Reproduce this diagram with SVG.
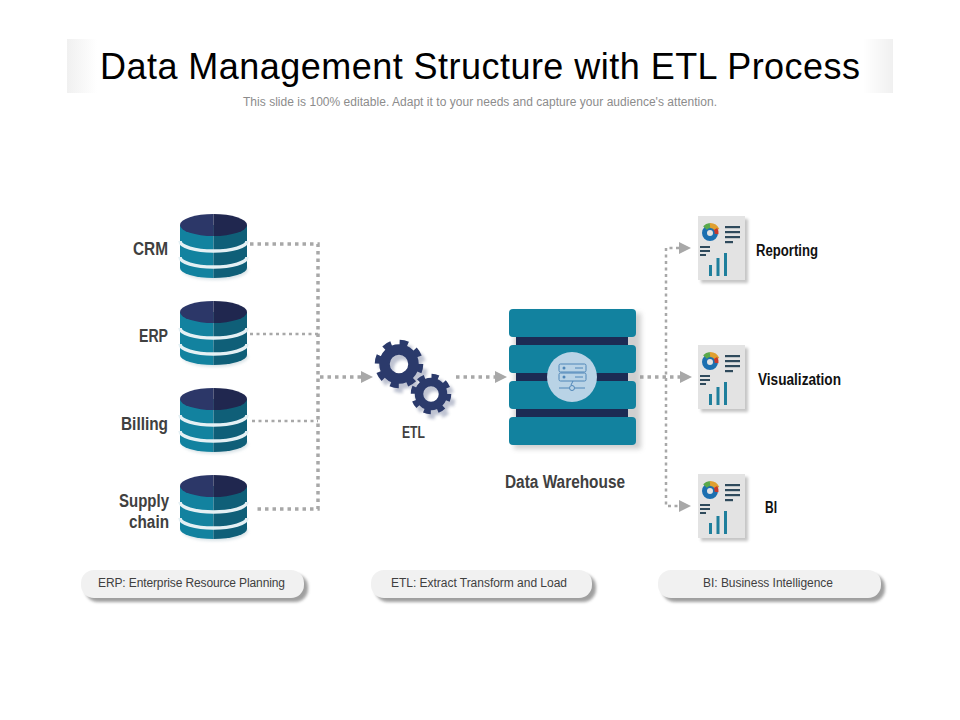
<svg xmlns="http://www.w3.org/2000/svg" width="960" height="720" viewBox="0 0 960 720">
<style>
.lab{font-family:"Liberation Sans",Arial,sans-serif;font-weight:700;font-size:18px;fill:#404040}
.blk{font-family:"Liberation Sans",Arial,sans-serif;font-weight:700;font-size:16px;fill:#111}
.pilltxt{font-family:"Liberation Sans",Arial,sans-serif;font-size:12px;fill:#404040}
.dot{fill:none;stroke:#a8a8a8;stroke-width:3.500;stroke-dasharray:3.500 4}
.dot2{fill:none;stroke:#a8a8a8;stroke-width:2.500;stroke-dasharray:3 3.500}
.arr{fill:#a8a8a8}
.slab{fill:#12829f}
.bar{fill:#1c2b54}
.ic{fill:none;stroke:#4f86b8;stroke-width:1}
.ln{fill:#2f4a5c}
.chart{fill:#1f7f9c}
.gear{fill:none;stroke:#2b3a6b}
.st{fill:none;stroke:#e4f0f4;stroke-width:3.500}
</style>
<defs>
<linearGradient id="bandL"><stop offset="0" stop-color="#f0f0f0"/><stop offset="1" stop-color="#ffffff"/></linearGradient>
<linearGradient id="bandR"><stop offset="0" stop-color="#ffffff"/><stop offset="1" stop-color="#f0f0f0"/></linearGradient>
<filter id="soft" x="-30%" y="-30%" width="160%" height="160%"><feGaussianBlur stdDeviation="2.500"/></filter>
<filter id="soft2" x="-30%" y="-30%" width="160%" height="160%"><feGaussianBlur stdDeviation="1.500"/></filter>
<g id="cyl">
<ellipse cx="215" cy="56" rx="33" ry="10" fill="#9fb8c2" opacity=".4" filter="url(#soft2)"/>
<path d="M180 11V54A33.500 10 0 0 0 213.500 64V11Z" fill="#12829f"/>
<path d="M247 11V54A33.500 10 0 0 1 213.500 64V11Z" fill="#0f5f78"/>
<path class="st" d="M180 27A33.500 10 0 0 0 247 27"/>
<path class="st" d="M180 43A33.500 10 0 0 0 247 43"/>
<path d="M213.500 0A33.500 11 0 0 0 213.500 22Z" fill="#2c3768"/>
<path d="M213.500 0A33.500 11 0 0 1 213.500 22Z" fill="#20274f"/>
</g>
<g id="doc">
<rect x="3" y="3" width="47" height="64" fill="#8a8a8a" opacity=".5" filter="url(#soft2)"/>
<rect x="0" y="0" width="47" height="64" fill="#e3e3e3"/>
<circle cx="12" cy="17" r="5.500" fill="none" stroke="#1c6fb0" stroke-width="5"/>
<path d="M12 9.500A7.500 7.500 0 0 1 19 14" fill="none" stroke="#e0a030" stroke-width="5"/>
<path d="M7 12A7.500 7.500 0 0 1 12 9.500" fill="none" stroke="#5aa84a" stroke-width="5"/>
<path d="M17.500 13A7 7 0 0 1 18.500 18" fill="none" stroke="#c8392b" stroke-width="4"/>
<rect class="ln" x="27" y="10" width="15" height="2.200"/>
<rect class="ln" x="27" y="15" width="15" height="2.200"/>
<rect class="ln" x="27" y="20" width="15" height="2.200"/>
<rect class="ln" x="27" y="25" width="8" height="2.200"/>
<rect class="ln" x="2" y="30" width="10" height="2"/>
<rect class="ln" x="2" y="34" width="10" height="2"/>
<rect class="ln" x="2" y="38" width="6" height="2"/>
<rect class="chart" x="11" y="49" width="3" height="11"/>
<rect class="chart" x="18.500" y="42" width="3" height="18"/>
<rect class="chart" x="26" y="37" width="3" height="23"/>
</g>
<g id="gearB">
<circle class="gear" r="21" stroke-width="6.500" stroke-dasharray="8.200 8.290"/>
<circle class="gear" r="14.500" stroke-width="10.500"/>
</g>
<g id="gearS">
<circle class="gear" r="17.500" stroke-width="5.500" stroke-dasharray="6.900 6.840"/>
<circle class="gear" r="12" stroke-width="8.500"/>
</g>
</defs>
<rect width="960" height="720" fill="#ffffff"/>

<g id="title">
<rect x="67" y="39" width="30" height="54" fill="url(#bandL)"/>
<rect x="863" y="39" width="30" height="54" fill="url(#bandR)"/>
<text x="100" y="79" font-family="'Liberation Sans',Arial,sans-serif" font-size="36" fill="#000" textLength="760" lengthAdjust="spacing">Data Management Structure with ETL Process</text>
<text x="243" y="106" font-family="'Liberation Sans',Arial,sans-serif" font-size="12" fill="#8c8c8c" textLength="474" lengthAdjust="spacing">This slide is 100% editable. Adapt it to your needs and capture your audience's attention.</text>
</g>

<g id="connectors">
<path class="dot" d="M250 244H318V509H254"/>
<path class="dot2" d="M250 334H318"/>
<path class="dot2" d="M252 421H318"/>
<path class="dot" d="M320 377H361"/>
<polygon class="arr" points="361,371 373,377 361,383"/>
<path class="dot" d="M456 377H495"/>
<polygon class="arr" points="495,371 507,377 495,383"/>
<path class="dot" d="M640 377H680"/>
<polygon class="arr" points="680,371 692,377 680,383"/>
<path class="dot2" d="M679 248H666V506H679"/>
<polygon class="arr" points="679,242 691,248 679,254"/>
<polygon class="arr" points="679,500 691,506 679,512"/>
</g>

<g id="crm">
<use href="#cyl" x="0" y="214"/>
<text class="lab" x="133" y="255" textLength="35" lengthAdjust="spacingAndGlyphs">CRM</text>
</g>
<g id="erp">
<use href="#cyl" x="0" y="301"/>
<text class="lab" x="139" y="342" textLength="29" lengthAdjust="spacingAndGlyphs">ERP</text>
</g>
<g id="billing">
<use href="#cyl" x="0" y="388"/>
<text class="lab" x="121" y="430" textLength="47" lengthAdjust="spacingAndGlyphs">Billing</text>
</g>
<g id="supply-chain">
<use href="#cyl" x="0" y="475"/>
<text class="lab" x="119" y="507" textLength="50" lengthAdjust="spacingAndGlyphs">Supply</text>
<text class="lab" x="129" y="528" textLength="40" lengthAdjust="spacingAndGlyphs">chain</text>
</g>

<g id="etl">
<g opacity=".3" filter="url(#soft2)" transform="translate(4 5)">
<use href="#gearB" x="399" y="364"/>
<use href="#gearS" x="431" y="394"/>
</g>
<use href="#gearB" x="399" y="364"/>
<use href="#gearS" x="431" y="394"/>
<text class="lab" x="402" y="438" style="font-size:16px" textLength="23" lengthAdjust="spacingAndGlyphs">ETL</text>
</g>

<g id="data-warehouse">
<g fill="#8a8a8a" opacity=".4" filter="url(#soft)">
<rect x="514" y="313" width="127" height="136"/>
</g>
<rect class="bar" x="516" y="335" width="112" height="12"/>
<rect class="bar" x="516" y="371" width="112" height="12"/>
<rect class="bar" x="516" y="407" width="112" height="12"/>
<rect class="slab" x="509" y="309" width="127" height="28" rx="4"/>
<rect class="slab" x="509" y="345" width="127" height="28" rx="4"/>
<rect class="slab" x="509" y="381" width="127" height="28" rx="4"/>
<rect class="slab" x="509" y="417" width="127" height="28" rx="4"/>
<circle cx="572" cy="377" r="25" fill="#b9d3e6"/>
<rect class="ic" x="559" y="364" width="27" height="8" rx="1.500"/>
<rect class="ic" x="559" y="373" width="27" height="8" rx="1.500"/>
<circle cx="564" cy="368" r="1.500" fill="#4f86b8"/>
<circle cx="564" cy="377" r="1.500" fill="#4f86b8"/>
<path class="ic" d="M575 368h8M575 377h8M559 388h10M575 388h10M573 381l-2 4"/>
<circle class="ic" cx="572" cy="388" r="2.500"/>
<text class="lab" x="505" y="488" textLength="120" lengthAdjust="spacingAndGlyphs">Data Warehouse</text>
</g>

<g id="reporting">
<use href="#doc" x="698" y="216"/>
<text class="blk" x="756" y="256" textLength="62" lengthAdjust="spacingAndGlyphs">Reporting</text>
</g>
<g id="visualization">
<use href="#doc" x="698" y="345"/>
<text class="blk" x="758" y="385" textLength="83" lengthAdjust="spacingAndGlyphs">Visualization</text>
</g>
<g id="bi">
<use href="#doc" x="698" y="474"/>
<text class="blk" x="765" y="513" textLength="12" lengthAdjust="spacingAndGlyphs">BI</text>
</g>

<g id="legend-erp">
<rect x="85" y="574" width="223" height="28" rx="13" fill="#777" opacity=".7" filter="url(#soft2)"/>
<rect x="81" y="570" width="223" height="28" rx="13" fill="#f1f1f1"/>
<text class="pilltxt" x="98" y="587" textLength="187" lengthAdjust="spacing">ERP: Enterprise Resource Planning</text>
</g>
<g id="legend-etl">
<rect x="375" y="574" width="221" height="28" rx="13" fill="#777" opacity=".7" filter="url(#soft2)"/>
<rect x="371" y="570" width="221" height="28" rx="13" fill="#f1f1f1"/>
<text class="pilltxt" x="391" y="587" textLength="176" lengthAdjust="spacing">ETL: Extract Transform and Load</text>
</g>
<g id="legend-bi">
<rect x="662" y="574" width="223" height="28" rx="13" fill="#777" opacity=".7" filter="url(#soft2)"/>
<rect x="658" y="570" width="223" height="28" rx="13" fill="#f1f1f1"/>
<text class="pilltxt" x="703" y="587" textLength="130" lengthAdjust="spacing">BI: Business Intelligence</text>
</g>
</svg>
